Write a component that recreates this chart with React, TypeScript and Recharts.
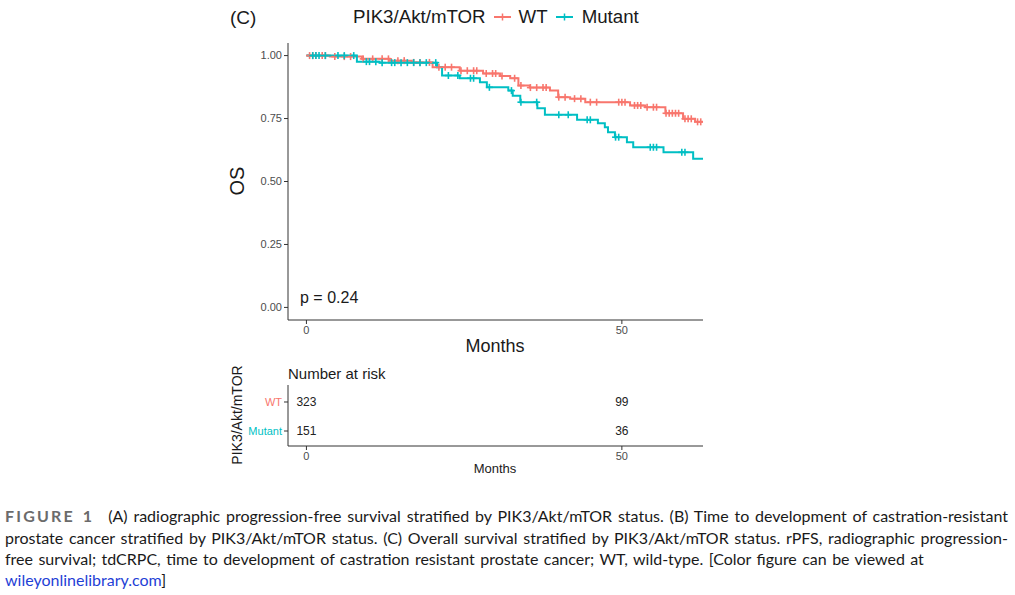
import React from 'react';
import { ComposedChart, Line, Scatter, XAxis, YAxis } from 'recharts';

// Kaplan-Meier steps (months, survival)
const wtTimes = [0, 3.7, 8.8, 13.2, 16.7, 20.0, 24.3, 28.0, 30.7, 32.3, 33.6, 35.4, 38.6, 39.9, 41.8, 44.2, 51.3, 53.7, 56.9, 59.7, 61.6, 62.9];
const wtSurv = [1.0, 0.996, 0.987, 0.98, 0.973, 0.954, 0.94, 0.929, 0.919, 0.91, 0.881, 0.873, 0.861, 0.835, 0.829, 0.815, 0.802, 0.795, 0.771, 0.749, 0.737, 0.737];
const mutTimes = [0, 8.0, 11.6, 20.7, 21.5, 24.3, 27.5, 28.6, 32.0, 32.7, 33.9, 36.6, 37.8, 42.9, 46.2, 47.3, 47.8, 48.9, 50.8, 51.8, 56.6, 61.3, 62.9];
const mutSurv = [1.0, 0.976, 0.972, 0.954, 0.921, 0.91, 0.894, 0.874, 0.861, 0.841, 0.815, 0.791, 0.765, 0.745, 0.731, 0.715, 0.696, 0.676, 0.656, 0.636, 0.616, 0.59, 0.59];

// censoring times
const wtCensor = [0.5, 1, 1.5, 2.5, 3, 4.5, 6, 7, 9, 10.5, 12, 13, 14.5, 15.5, 17, 18, 19.5, 21, 22, 23, 24.5, 25.5, 26.5, 27, 28.5, 29.5, 30, 31, 33, 34, 35.5, 36.5, 37.5, 38, 40, 41, 42.5, 43.5, 45, 46, 49.5, 50, 50.5, 52, 52.5, 53, 54, 55, 55.5, 57, 57.5, 58, 58.5, 59, 60, 60.5, 61, 62, 62.5];
const mutCensor = [1, 1.5, 2, 3, 5, 6, 7.5, 9.5, 10, 11, 12, 13.5, 14, 15, 16, 17, 18, 19, 20.5, 22.5, 24, 26, 26.5, 29, 32.5, 34, 36.5, 40, 41.5, 44.5, 45, 49, 49.5, 54.5, 55, 55.5, 59.5, 60];

const riskTimes = [0, 50];
const riskWT = [323, 99];
const riskMutant = [151, 36];

const survTicks = [0, 0.25, 0.5, 0.75, 1];
const monthTicks = [0, 50];

const RED = '#F8766D';
const TEAL = '#00BFC4';
const FONT = '"Liberation Sans", Arial, sans-serif';
const AXIS = '#333333';
const TICK = { fontSize: 11, fill: '#4D4D4D', fontFamily: FONT };

const survAt = (times: number[], surv: number[], t: number) => {
  let s = surv[0];
  for (let i = 0; i < times.length; i++) if (times[i] <= t) s = surv[i];
  return s;
};

const wtLine = wtTimes.map((m, i) => ({ m, s: wtSurv[i] }));
const mutLine = mutTimes.map((m, i) => ({ m, s: mutSurv[i] }));
const wtMarks = wtCensor.map((m) => ({ m, s: survAt(wtTimes, wtSurv, m) }));
const mutMarks = mutCensor.map((m) => ({ m, s: survAt(mutTimes, mutSurv, m) }));

const plus = (color: string) => (props: any) => {
  const { cx, cy } = props;
  return (
    <g stroke={color} strokeWidth={1.6}>
      <line x1={cx - 3.5} x2={cx + 3.5} y1={cy} y2={cy} />
      <line x1={cx} x2={cx} y1={cy - 3.5} y2={cy + 3.5} />
    </g>
  );
};

const riskRows = [
  ...riskTimes.map((m, i) => ({ m, g: 2, n: riskWT[i] })),
  ...riskTimes.map((m, i) => ({ m, g: 1, n: riskMutant[i] })),
];

const riskNumber = (props: any) => {
  const { cx, cy, payload } = props;
  return (
    <text x={cx} y={cy} textAnchor="middle" dy="0.36em" fontSize={12} fill="#222" fontFamily={FONT}>
      {payload.n}
    </text>
  );
};

const groupTick = (props: any) => {
  const { x, y, payload } = props;
  const wt = payload.value === 2;
  return (
    <text x={x} y={y} textAnchor="end" dy="0.36em" fontSize={11} fill={wt ? RED : TEAL} fontFamily={FONT}>
      {wt ? 'WT' : 'Mutant'}
    </text>
  );
};

const abs = (left: number, top: number, extra: React.CSSProperties = {}): React.CSSProperties => ({
  position: 'absolute', left, top, lineHeight: 1, whiteSpace: 'nowrap', fontFamily: FONT, color: '#1a1a1a', ...extra,
});

const LegendKey = ({ color }: { color: string }) => (
  <svg width={17} height={10} style={{ display: 'block' }}>
    <line x1={0} x2={17} y1={5} y2={5} stroke={color} strokeWidth={2} />
    <line x1={8.5} x2={8.5} y1={1.5} y2={8.5} stroke={color} strokeWidth={1.5} />
  </svg>
);

const captionLine: React.CSSProperties = {
  position: 'absolute', left: 5, width: 1003, fontFamily: 'Lato, sans-serif', fontSize: 16,
  lineHeight: 1, color: '#1a1a1a', whiteSpace: 'nowrap', transform: 'translateY(-50%)',
};

export default function App() {
  return (
    <div style={{ position: 'absolute', left: 0, top: 0, width: 1015, height: 595, background: '#fff', overflow: 'hidden' }}>
      <div style={abs(230, 8, { fontSize: 19 })}>(C)</div>
      <div style={abs(353, 8, { fontSize: 18.7, display: 'flex', alignItems: 'center' })}>
        <span>PIK3/Akt/mTOR</span>
        <span style={{ marginLeft: 8 }}><LegendKey color={RED} /></span>
        <span style={{ marginLeft: 8 }}>WT</span>
        <span style={{ marginLeft: 8 }}><LegendKey color={TEAL} /></span>
        <span style={{ marginLeft: 9 }}>Mutant</span>
      </div>

      <div style={{ position: 'absolute', left: 0, top: 0 }}>
        <ComposedChart width={1015} height={350} margin={{ top: 43, right: 312, bottom: 0, left: 228 }}>
          <XAxis type="number" dataKey="m" domain={[-2.92, 62.86]} ticks={monthTicks} allowDataOverflow
            tickSize={4} tickMargin={2} tick={TICK} stroke={AXIS} height={30} />
          <YAxis type="number" dataKey="s" domain={[-0.05, 1.05]} ticks={survTicks} allowDataOverflow
            tickSize={4} tickMargin={2} tick={TICK} stroke={AXIS} width={60}
            tickFormatter={(v: number) => v.toFixed(2)} />
          <Line data={wtLine} dataKey="s" type="stepAfter" stroke={RED} strokeWidth={2} dot={false} activeDot={false} isAnimationActive={false} />
          <Line data={mutLine} dataKey="s" type="stepAfter" stroke={TEAL} strokeWidth={2} dot={false} activeDot={false} isAnimationActive={false} />
          <Scatter data={wtMarks} dataKey="s" shape={plus(RED)} isAnimationActive={false} />
          <Scatter data={mutMarks} dataKey="s" shape={plus(TEAL)} isAnimationActive={false} />
        </ComposedChart>
      </div>

      <div style={abs(237, 181, { fontSize: 20, transform: 'translate(-50%, -50%) rotate(-90deg)' })}>OS</div>
      <div style={abs(495, 346, { fontSize: 18, transform: 'translate(-50%, -50%)' })}>Months</div>
      <div style={abs(300, 298, { fontSize: 16, transform: 'translateY(-50%)' })}>p = 0.24</div>

      <div style={abs(288, 373, { fontSize: 15, transform: 'translateY(-50%)' })}>Number at risk</div>
      <div style={{ position: 'absolute', left: 0, top: 370 }}>
        <ComposedChart width={1015} height={110} margin={{ top: 15, right: 312, bottom: 0, left: 228 }}>
          <XAxis type="number" dataKey="m" domain={[-2.92, 62.86]} ticks={monthTicks} allowDataOverflow
            tickSize={4} tickMargin={2} tick={TICK} stroke={AXIS} height={34} />
          <YAxis type="number" dataKey="g" domain={[0.483, 2.586]} ticks={[1, 2]} allowDataOverflow
            tickSize={4} tickMargin={2} tick={groupTick} stroke={AXIS} width={60} />
          <Scatter data={riskRows} dataKey="g" shape={riskNumber} isAnimationActive={false} />
        </ComposedChart>
      </div>
      <div style={abs(237, 415, { fontSize: 14, transform: 'translate(-50%, -50%) rotate(-90deg)' })}>PIK3/Akt/mTOR</div>
      <div style={abs(495, 468, { fontSize: 13, transform: 'translate(-50%, -50%)' })}>Months</div>

      <div style={{ ...captionLine, top: 516, textAlignLast: 'justify' } as React.CSSProperties}>
        <span style={{ fontWeight: 700, color: '#6b6b6b', letterSpacing: 2.2, marginRight: 14 }}>FIGURE 1</span>
        (A) radiographic progression-free survival stratified by PIK3/Akt/mTOR status. (B) Time to development of castration-resistant
      </div>
      <div style={{ ...captionLine, top: 538, textAlignLast: 'justify' } as React.CSSProperties}>
        prostate cancer stratified by PIK3/Akt/mTOR status. (C) Overall survival stratified by PIK3/Akt/mTOR status. rPFS, radiographic progression-
      </div>
      <div style={{ ...captionLine, top: 559, wordSpacing: 1.3 }}>
        free survival; tdCRPC, time to development of castration resistant prostate cancer; WT, wild-type. [Color figure can be viewed at
      </div>
      <div style={{ ...captionLine, top: 580 }}>
        <span style={{ color: '#1f3fd6' }}>wileyonlinelibrary.com</span>]
      </div>
    </div>
  );
}
